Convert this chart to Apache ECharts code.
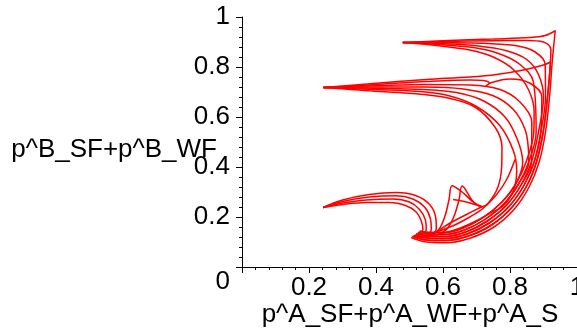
<!DOCTYPE html>
<html>
<head>
<meta charset="utf-8">
<script src="https://cdn.jsdelivr.net/npm/echarts@6/dist/echarts.min.js"></script>
<style>
    html, body { margin: 0; padding: 0; background: #fff; }
    #chart { width: 577px; height: 332px; }
</style>
</head>
<body>
<div id="chart"></div>
<script>
// tick labels / axis titles
const xTitle = "p^A_SF+p^A_WF+p^A_S"
const yTitle = "p^B_SF+p^B_WF"

// band lanes along the right "J", top -> bottom-left hook
const lane0 = [[0.935,0.94],[0.926,0.82],[0.918,0.68],[0.906,0.54],[0.887,0.42],[0.857,0.32],[0.812,0.23],[0.752,0.16],[0.68,0.115],[0.61,0.097],[0.55,0.1],[0.505,0.118]]
const lane1 = [[0.93,0.935],[0.921,0.82],[0.912,0.68],[0.899,0.54],[0.879,0.42],[0.849,0.322],[0.804,0.236],[0.745,0.168],[0.676,0.124],[0.608,0.106],[0.552,0.108],[0.51,0.122]]
const lane2 = [[0.926,0.93],[0.916,0.81],[0.906,0.68],[0.892,0.54],[0.872,0.42],[0.841,0.325],[0.797,0.242],[0.738,0.176],[0.672,0.132],[0.606,0.114],[0.554,0.116],[0.515,0.127]]
const lane3 = [[0.922,0.925],[0.911,0.8],[0.9,0.68],[0.885,0.54],[0.864,0.42],[0.833,0.328],[0.79,0.248],[0.731,0.183],[0.668,0.14],[0.605,0.122],[0.556,0.124],[0.52,0.132]]
const lane4 = [[0.918,0.92],[0.906,0.79],[0.894,0.68],[0.878,0.54],[0.856,0.42],[0.825,0.331],[0.783,0.254],[0.725,0.19],[0.664,0.148],[0.604,0.13],[0.558,0.131],[0.525,0.138]]
const lane5 = [[0.914,0.915],[0.901,0.78],[0.888,0.68],[0.871,0.54],[0.848,0.42],[0.818,0.334],[0.776,0.26],[0.719,0.197],[0.66,0.156],[0.603,0.138],[0.56,0.138],[0.53,0.143]]

// top fan, from (0.48, 0.9)
const top1 = [[0.48,0.898],[0.6,0.905],[0.75,0.912],[0.86,0.918],[0.905,0.926],[0.935,0.945]]
const top2 = [[0.48,0.898],[0.6,0.902],[0.75,0.905],[0.85,0.906],[0.9,0.9],[0.922,0.87]]
const top3 = [[0.48,0.898],[0.6,0.897],[0.72,0.895],[0.82,0.885],[0.875,0.86],[0.905,0.81]]
const top4 = [[0.48,0.898],[0.6,0.893],[0.7,0.885],[0.79,0.865],[0.85,0.83],[0.885,0.77]]
const top5 = [[0.48,0.898],[0.6,0.889],[0.7,0.876],[0.77,0.852],[0.83,0.81],[0.87,0.74]]
const top6 = [[0.48,0.898],[0.58,0.886],[0.68,0.868],[0.75,0.84],[0.81,0.79],[0.855,0.71],[0.872,0.62]]

// middle fan, from (0.24, 0.72)
const mid1 = [[0.243,0.718],[0.4,0.735],[0.55,0.75],[0.68,0.76],[0.76,0.77],[0.84,0.788],[0.9,0.808],[0.921,0.82]]
const mid2 = [[0.243,0.718],[0.4,0.73],[0.55,0.742],[0.68,0.748],[0.72,0.746],[0.738,0.736],[0.728,0.724],[0.745,0.738],[0.8,0.752],[0.86,0.735],[0.895,0.68]]
const mid3 = [[0.243,0.718],[0.4,0.725],[0.55,0.73],[0.68,0.728],[0.77,0.71],[0.83,0.66],[0.865,0.58]]
const mid4 = [[0.243,0.718],[0.4,0.72],[0.55,0.72],[0.66,0.712],[0.75,0.685],[0.81,0.63],[0.845,0.55],[0.855,0.47]]
const mid5 = [[0.243,0.718],[0.4,0.715],[0.54,0.71],[0.64,0.698],[0.72,0.665],[0.785,0.6],[0.822,0.51],[0.838,0.42]]
const mid6 = [[0.243,0.718],[0.4,0.71],[0.52,0.703],[0.615,0.686],[0.7,0.642],[0.77,0.565],[0.81,0.465],[0.82,0.385],[0.81,0.305],[0.78,0.245],[0.74,0.215],[0.7,0.185],[0.65,0.155],[0.6,0.135],[0.55,0.125],[0.52,0.13]]
const mid7 = [[0.243,0.718],[0.38,0.705],[0.5,0.695],[0.615,0.676],[0.695,0.64],[0.755,0.56],[0.776,0.48],[0.775,0.4],[0.764,0.32],[0.735,0.255],[0.716,0.241],[0.69,0.26],[0.657,0.3],[0.627,0.325],[0.618,0.27],[0.605,0.2],[0.585,0.145],[0.55,0.12]]

// little triangle
const tri1 = [[0.716,0.241],[0.69,0.262],[0.657,0.324],[0.648,0.27],[0.632,0.2],[0.61,0.15],[0.58,0.128]]
const tri2 = [[0.716,0.241],[0.67,0.21],[0.62,0.175],[0.585,0.145],[0.56,0.13]]
const tri3 = [[0.63,0.27],[0.675,0.258],[0.716,0.241]]
const tri4 = [[0.57,0.135],[0.63,0.165],[0.68,0.2],[0.72,0.235],[0.76,0.29],[0.79,0.35],[0.815,0.43]]

// bottom fan, from (0.24, 0.24)
const bot1 = [[0.242,0.238],[0.3,0.268],[0.38,0.29],[0.46,0.298],[0.52,0.285],[0.56,0.25],[0.578,0.2],[0.58,0.155],[0.565,0.128],[0.53,0.118],[0.508,0.122]]
const bot2 = [[0.242,0.238],[0.3,0.262],[0.38,0.28],[0.46,0.285],[0.51,0.272],[0.545,0.24],[0.562,0.195],[0.565,0.15],[0.55,0.128],[0.52,0.122]]
const bot3 = [[0.242,0.238],[0.3,0.256],[0.37,0.268],[0.45,0.272],[0.5,0.26],[0.53,0.23],[0.547,0.19],[0.55,0.15],[0.535,0.13],[0.512,0.125]]
const bot4 = [[0.242,0.238],[0.3,0.25],[0.37,0.258],[0.44,0.258],[0.49,0.245],[0.52,0.22],[0.535,0.185],[0.54,0.15],[0.525,0.133]]

const curves = [
    top1.concat(lane0.slice(1)),
    top2.concat(lane1.slice(2)),
    top3.concat(lane2.slice(2)),
    top4.concat(lane3.slice(2)),
    top5.concat(lane4.slice(3)),
    top6.concat(lane5.slice(3)),
    mid1.concat(lane1.slice(2)),
    mid2.concat(lane2.slice(3)),
    mid3.concat(lane3.slice(4)),
    mid4.concat(lane4.slice(4)),
    mid5.concat(lane5.slice(5)),
    mid6, mid7,
    tri1, tri2, tri3, tri4,
    bot1, bot2, bot3, bot4
]

const font = "Liberation Sans, Arial, sans-serif"

const chart = echarts.init(document.getElementById("chart"), null, {renderer: "canvas"})

const option = {
    animation: false,
    backgroundColor: "#fff",
    grid: {
        left: 242,
        right: 0,
        top: 17,
        bottom: 65,
        containLabel: false,
        outerBoundsMode: "none"
    },
    xAxis: {
        type: "value",
        min: 0,
        max: 1,
        interval: 0.2,
        axisLine: {lineStyle: {color: "#000", width: 1}},
        axisTick: {show: true, length: 6, lineStyle: {color: "#000"}},
        minorTick: {show: true, splitNumber: 5, length: 3, lineStyle: {color: "#000"}},
        splitLine: {show: false},
        axisLabel: {
            color: "#000",
            fontSize: 26,
            fontFamily: font,
            margin: 8,
            showMinLabel: false,
            hideOverlap: false
        }
    },
    yAxis: {
        type: "value",
        min: 0,
        max: 1,
        interval: 0.2,
        axisLine: {lineStyle: {color: "#000", width: 1}},
        axisTick: {show: true, length: 6, lineStyle: {color: "#000"}},
        minorTick: {show: true, splitNumber: 5, length: 3, lineStyle: {color: "#000"}},
        splitLine: {show: false},
        axisLabel: {
            color: "#000",
            fontSize: 26,
            fontFamily: font,
            margin: 12,
            formatter: v => v === 0 ? "{z|0}" : String(v),
            rich: {
                z: {fontSize: 26, fontFamily: font, color: "#000", padding: [30, 0, 0, 0]}
            }
        }
    },
    graphic: [
        {
            type: "text",
            style: {
                text: yTitle, x: 217, y: 150,
                fill: "#000", font: "26px " + font,
                textAlign: "right", textVerticalAlign: "middle",
                align: "right", verticalAlign: "middle"
            }
        },
        {
            type: "text",
            style: {
                text: xTitle, x: 410, y: 315,
                fill: "#000", font: "26px " + font,
                textAlign: "center", textVerticalAlign: "middle",
                align: "center", verticalAlign: "middle"
            }
        }
    ],
    series: curves.map(pts => ({
        type: "line",
        data: pts,
        showSymbol: false,
        symbol: "none",
        smooth: 0.35,
        clip: false,
        lineStyle: {color: "#ff0000", width: 1.5}
    }))
}

chart.setOption(option)
</script>
</body>
</html>
